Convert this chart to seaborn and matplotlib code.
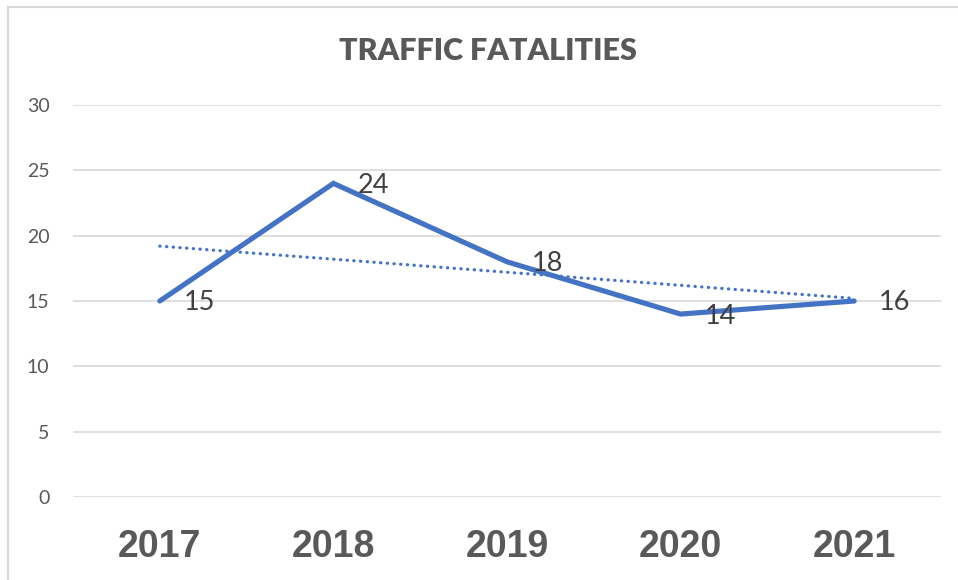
import matplotlib
matplotlib.use("Agg")
import matplotlib.pyplot as plt
import seaborn as sns
import numpy as np
import pandas as pd
from matplotlib.patches import Rectangle

years = ["2017", "2018", "2019", "2020", "2021"]
fatalities = [15, 24, 18, 14, 15]
data_labels = ["15", "24", "18", "14", "16"]
y_ticks = [0, 5, 10, 15, 20, 25, 30]
title = "TRAFFIC FATALITIES"

sns.set_theme(style="white")
plt.rcParams['font.family'] = ['Lato', 'DejaVu Sans']

df = pd.DataFrame({"pos": np.arange(len(years)), "year": years, "value": fatalities})

W, H = 958, 580
fig = plt.figure(figsize=(W / 100, H / 100), dpi=100)
ax = fig.add_axes([73 / W, 1 - 497 / H, (941 - 73) / W, (497 - 105) / H])

blue = "#4472C4"
grey_text = "#595959"

for t in y_ticks:
    ax.axhline(t, color="#D9D9D9", lw=1.2, zorder=0)

sns.lineplot(data=df, x="pos", y="value", ax=ax, color=blue, lw=3.7,
             solid_capstyle="round", solid_joinstyle="miter", zorder=3)
sns.regplot(data=df, x="pos", y="value", ax=ax, scatter=False, ci=None,
            color=blue, line_kws=dict(lw=2.3, ls=(0, (0.1, 2.0)),
                                      dash_capstyle="round", zorder=2))

for x, y, lab in zip(df["pos"], df["value"], data_labels):
    ax.annotate(lab, (x, y), xytext=(40, -2), textcoords="offset pixels",
                ha="center", va="center", fontsize=19.5, color="#404040",
                zorder=4)

ax.set_xlim(-0.5, len(years) - 0.5)
ax.set_ylim(0, 30)
ax.set_yticks(y_ticks)
ax.set_yticklabels([str(t) for t in y_ticks], fontsize=14, color=grey_text)
ax.set_xticks(df["pos"])
ax.set_xticklabels(years, fontsize=27, fontweight="bold", color=grey_text,
                   family=["Liberation Sans", "DejaVu Sans"])
ax.tick_params(axis="y", length=0, pad=17)
ax.tick_params(axis="x", length=0, pad=23)
ax.set_xlabel("")
ax.set_ylabel("")
for s in ax.spines.values():
    s.set_visible(False)

fig.text(488 / W, 1 - 51 / H, title, ha="center", va="center", fontsize=22,
         fontweight="heavy", color=grey_text)

fig.patches.append(Rectangle((8 / W, -0.1), 1.2, 1 - 7 / H + 0.1,
                             transform=fig.transFigure, fill=False,
                             edgecolor="#D9D9D9", lw=1.5, zorder=0))

fig.savefig("out.png", dpi=100)
